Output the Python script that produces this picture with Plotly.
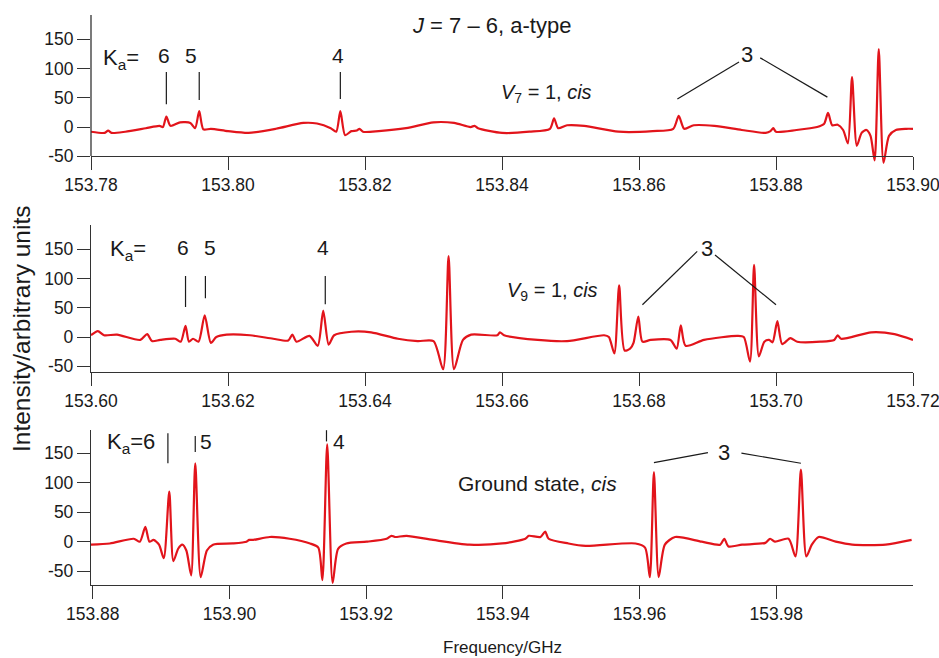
import plotly.graph_objects as go

# ---------------- data ----------------
# Panel 1: V7 = 1, cis
freq_v7 = [153.7800, 153.7820, 153.7825, 153.7830, 153.7850, 153.7880, 153.7900, 153.7905, 153.7910,
           153.7916, 153.7930, 153.7945, 153.7952, 153.7958, 153.7964, 153.7975, 153.8000, 153.8030,
           153.8070, 153.8110, 153.8130, 153.8150, 153.8158, 153.8164, 153.8171, 153.8180, 153.8188,
           153.8192, 153.8197, 153.8220, 153.8260, 153.8300, 153.8330, 153.8354, 153.8360, 153.8365,
           153.8400, 153.8440, 153.8470, 153.8476, 153.8482, 153.8495, 153.8520, 153.8570, 153.8620,
           153.8650, 153.8658, 153.8666, 153.8680, 153.8710, 153.8750, 153.8785, 153.8792, 153.8796,
           153.8800, 153.8830, 153.8860, 153.8870, 153.8876, 153.8882, 153.8890, 153.8898, 153.8905,
           153.8911, 153.8918, 153.8925, 153.8932, 153.8938, 153.8944, 153.8950, 153.8957, 153.8965,
           153.8975, 153.8990, 153.9000]
int_v7 = [-8, -10, -6, -10, -8, -2, 2, 0, 18,
          2, 8, 7, -2, 27, -4, -3, -7, -10,
          -3, 7, 6, -2, -8, 27, -14, -7, -6,
          -3, -8, -7, -2, 8, 7, 0, 2, -2,
          -10, -8, -3, 15, -2, 3, 2, -8, -7,
          -3, 19, -3, 3, 2, -5, -10, -7, -2,
          -8, -5, 0, 5, 24, 3, 4, -5, -28,
          85, -32, -10, -5, -15, -57, 133, -61, -15,
          -5, -3, -3]

# Panel 2: V9 = 1, cis
freq_v9 = [153.6000, 153.6010, 153.6019, 153.6038, 153.6072, 153.6082, 153.6089, 153.6101, 153.6123,
           153.6131, 153.6138, 153.6143, 153.6149, 153.6157, 153.6166, 153.6175, 153.6183, 153.6198,
           153.6232, 153.6266, 153.6288, 153.6294, 153.6300, 153.6319, 153.6331, 153.6339, 153.6347,
           153.6355, 153.6380, 153.6409, 153.6448, 153.6477, 153.6500, 153.6514, 153.6522, 153.6530,
           153.6543, 153.6555, 153.6593, 153.6597, 153.6603, 153.6652, 153.6695, 153.6749, 153.6756,
           153.6764, 153.6771, 153.6779, 153.6787, 153.6792, 153.6799, 153.6805, 153.6817, 153.6846,
           153.6855, 153.6861, 153.6868, 153.6895, 153.6944, 153.6953, 153.6962, 153.6968, 153.6975,
           153.6983, 153.6990, 153.6995, 153.7002, 153.7009, 153.7021, 153.7031, 153.7065, 153.7085,
           153.7090, 153.7095, 153.7139, 153.7173, 153.7200]
int_v9 = [3, 10, 3, 4, -5, 5, -7, -5, -3,
          -8, 19, -8, -3, -8, 37, -10, 0, 4,
          3, -3, -6, 4, -8, 2, -15, 45, -13,
          3, 9, 8, -3, -7, -7, -55, 138, -55,
          -5, 4, 3, 8, 3, -5, -7, 3, 0,
          -28, 88, -23, -20, -10, 35, -8, -5, -5,
          -20, 20, -15, -5, 2, 0, -42, 123, -33,
          -8, -5, -9, 27, -12, -2, -8, -8, -5,
          3, -3, 8, 5, -5]

# Panel 3: Ground state, cis
freq_gs = [153.8797, 153.8825, 153.8860, 153.8869, 153.8877, 153.8883, 153.8889, 153.8897, 153.8904,
           153.8912, 153.8918, 153.8925, 153.8931, 153.8937, 153.8944, 153.8950, 153.8958, 153.8967,
           153.8976, 153.9005, 153.9025, 153.9029, 153.9035, 153.9059, 153.9088, 153.9118, 153.9130,
           153.9136, 153.9143, 153.9151, 153.9159, 153.9171, 153.9201, 153.9230, 153.9237, 153.9242,
           153.9259, 153.9298, 153.9351, 153.9399, 153.9433, 153.9438, 153.9455, 153.9462, 153.9467,
           153.9496, 153.9521, 153.9594, 153.9608, 153.9615, 153.9621, 153.9628, 153.9637, 153.9652,
           153.9691, 153.9718, 153.9724, 153.9730, 153.9750, 153.9784, 153.9791, 153.9798, 153.9818,
           153.9828, 153.9836, 153.9844, 153.9852, 153.9862, 153.9887, 153.9911, 153.9960, 153.9998]
int_gs = [-5, -3, 5, 0, 25, 0, 3, -5, -28,
          85, -33, -12, -5, -15, -57, 133, -60, -15,
          -5, -3, 0, 3, 3, 8, 5, -3, -10,
          -65, 165, -70, -12, -3, 0, 5, 10, 8,
          10, 3, -5, -3, 5, 10, 8, 17, 5,
          -3, -7, -3, -10, -60, 118, -60, -5, 8,
          0, -5, 5, -8, -5, -2, 5, 0, 5,
          -25, 122, -25, -5, 8, 0, -5, -5, 3]

ytick_vals = [-50, 0, 50, 100, 150]
ytick_text = ["-50", "0", "50", "100", "150"]
xticks_v7 = [153.78, 153.80, 153.82, 153.84, 153.86, 153.88, 153.90]
xticks_v9 = [153.60, 153.62, 153.64, 153.66, 153.68, 153.70, 153.72]
xticks_gs = [153.88, 153.90, 153.92, 153.94, 153.96, 153.98]

# Ka marker positions (frequency of marker line)
ka_v7 = [153.7910, 153.7958, 153.8164]
ka_v9 = [153.6138, 153.6167, 153.6342]
ka_gs = [153.8910, 153.8950, 153.9142]

# ---------------- figure ----------------
RED = "#e2141b"
INK = "#1a1a1a"
AX = "#333333"
FONT = "Arial, Liberation Sans, sans-serif"

fig = go.Figure()
for i, (fx, fy) in enumerate([(freq_v7, int_v7), (freq_v9, int_v9), (freq_gs, int_gs)]):
    sfx = "" if i == 0 else str(i + 1)
    fig.add_trace(go.Scatter(x=fx, y=fy, mode="lines", xaxis="x" + sfx, yaxis="y" + sfx,
                             line=dict(color=RED, width=2.2, shape="spline", smoothing=0.7),
                             showlegend=False, hoverinfo="skip"))

axis_common = dict(ticks="outside", ticklen=13, tickwidth=1.2, tickcolor=AX,
                   tickfont=dict(family=FONT, size=17.5, color=INK), automargin=False,
                   showgrid=False, zeroline=False, linecolor=AX, linewidth=1.3)
yaxis_common = dict(tickvals=ytick_vals, ticktext=ytick_text, **axis_common)
xaxis_common = dict(tickformat=".2f", showline=True, ticklabeloverflow="allow", **axis_common)

fig.update_layout(
    width=939, height=658,
    margin=dict(l=91, r=26, t=15, b=73, autoexpand=False),
    plot_bgcolor="white", paper_bgcolor="white",
    # panel 1
    xaxis=dict(range=[153.78, 153.90], tickvals=xticks_v7, anchor="free", position=0.7526,
               **xaxis_common),
    yaxis=dict(range=[-64.8, 191.1], domain=[0.7368, 1.0], showline=False, anchor="x",
               **yaxis_common),
    # panel 2
    xaxis2=dict(range=[153.60, 153.72], tickvals=xticks_v9, anchor="y2", **xaxis_common),
    yaxis2=dict(range=[-59.2, 191.1], domain=[0.3742, 0.6316], showline=True, anchor="x2",
                **yaxis_common),
    # panel 3
    xaxis3=dict(range=[153.87975, 154.0], tickvals=xticks_gs, anchor="y3", **xaxis_common),
    yaxis3=dict(range=[-73.4, 189.3], domain=[0.0, 0.2719], showline=True, anchor="x3",
                **yaxis_common),
)

shapes = []
# y-axis line of panel 1 (stops at the x axis)
shapes.append(dict(type="line", xref="paper", yref="y", x0=0, x1=0, y0=-49.5, y1=191.1,
                   line=dict(color=AX, width=1.3)))

def seg(xr, yr, x0, y0, x1, y1):
    shapes.append(dict(type="line", xref=xr, yref=yr, x0=x0, y0=y0, x1=x1, y1=y1,
                       line=dict(color=INK, width=1.2)))

# panel 1 markers
seg("x", "y", ka_v7[0], 94, ka_v7[0], 39)
seg("x", "y", ka_v7[1], 94, ka_v7[1], 46)
seg("x", "y", ka_v7[2], 94, ka_v7[2], 48)
seg("x", "y", 153.8656, 48, 153.8746, 111)
seg("x", "y", 153.8777, 118, 153.8875, 51)
# panel 2 markers
seg("x2", "y2", ka_v9[0], 104, ka_v9[0], 51)
seg("x2", "y2", ka_v9[1], 104, ka_v9[1], 66)
seg("x2", "y2", ka_v9[2], 104, ka_v9[2], 56)
seg("x2", "y2", 153.6805, 55, 153.6885, 146)
seg("x2", "y2", 153.6911, 140, 153.7000, 55)
# panel 3 markers
seg("x3", "y3", ka_gs[0], 184, ka_gs[0], 133)
seg("x3", "y3", ka_gs[1], 179, ka_gs[1], 152)
seg("x3", "y3", ka_gs[2], 189, ka_gs[2], 170)
seg("x3", "y3", 153.9621, 134, 153.9700, 151)
seg("x3", "y3", 153.9749, 150, 153.9836, 133)

anns = []
def txt(xr, yr, x, y, text, size=20, xanchor="center", yanchor="middle"):
    anns.append(dict(xref=xr, yref=yr, x=x, y=y, text=text, showarrow=False,
                     xanchor=xanchor, yanchor=yanchor,
                     font=dict(family=FONT, size=size, color=INK)))

# panel 1 labels
txt("x", "y", 153.8384, 174, "<i>J</i> = 7 – 6, a-type", size=22)
txt("x", "y", 153.7814, 116, "K<sub>a</sub>=", size=22, xanchor="left")
txt("x", "y", 153.7906, 122, "6", size=21)
txt("x", "y", 153.7946, 122, "5", size=21)
txt("x", "y", 153.8161, 122, "4", size=21)
txt("x", "y", 153.8395, 58, "<i>V</i><sub>7</sub> = 1, <i>cis</i>", size=20, xanchor="left")
txt("x", "y", 153.8758, 123, "3", size=22)
# panel 2 labels
txt("x2", "y2", 153.6025, 149, "K<sub>a</sub>=", size=22, xanchor="left")
txt("x2", "y2", 153.6135, 152, "6", size=21)
txt("x2", "y2", 153.6174, 152, "5", size=21)
txt("x2", "y2", 153.6339, 152, "4", size=21)
txt("x2", "y2", 153.6605, 78, "<i>V</i><sub>9</sub> = 1, <i>cis</i>", size=20, xanchor="left")
txt("x2", "y2", 153.6899, 151, "3", size=22)
# panel 3 labels
txt("x3", "y3", 153.8818, 167, "K<sub>a</sub>=6", size=22, xanchor="left")
txt("x3", "y3", 153.8966, 169, "5", size=21)
txt("x3", "y3", 153.9160, 169, "4", size=21)
txt("x3", "y3", 153.9332, 98, "Ground state, <i>cis</i>", size=21, xanchor="left")
txt("x3", "y3", 153.9723, 151, "3", size=22)

# axis titles
anns.append(dict(xref="paper", yref="paper", x=(22 - 91) / 822, y=(585 - 329) / 570,
                 text="Intensity/arbitrary units", showarrow=False, textangle=-90,
                 xanchor="center", yanchor="middle", font=dict(family=FONT, size=24.5, color=INK)))
anns.append(dict(xref="paper", yref="paper", x=(502 - 91) / 822, y=-(648 - 585) / 570,
                 text="Frequency/GHz", showarrow=False, xanchor="center", yanchor="middle",
                 font=dict(family=FONT, size=17, color=INK)))

fig.update_layout(shapes=shapes, annotations=anns)
fig.write_html("out.html", config={"displayModeBar": False},
               post_script="document.body.style.margin='0';")
